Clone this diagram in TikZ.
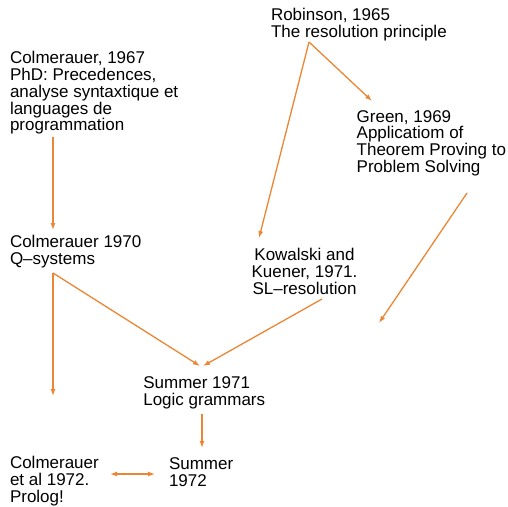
\documentclass[tikz,border=0pt]{standalone}
\usepackage{fontspec}
\setmainfont{Liberation Sans}
\usetikzlibrary{arrows.meta}
\definecolor{arrorange}{RGB}{236,134,52}
\tikzset{
  txt/.style={inner sep=0pt, outer sep=0pt, anchor=north west, align=left,
    font=\fontsize{17}{16.7}\selectfont, text=black},
  arr/.style={draw=arrorange, line width=1.3pt,
    -{Latex[length=7pt,width=5pt]}},
  darr/.style={draw=arrorange, line width=1.3pt,
    {Latex[length=7pt,width=5pt]}-{Latex[length=7pt,width=5pt]}}
}
\begin{document}
\begin{tikzpicture}[x=1pt,y=-1pt]
\useasboundingbox (0,0) rectangle (508,506);
\node[txt] (c67) at (10,51.6) {Colmerauer, 1967\\PhD: Precedences,\\analyse syntaxtique et\\languages de\\programmation};
\node[txt] (rob) at (271,8.6) {Robinson, 1965\\The resolution principle};
\node[txt] (green) at (356.7,110.3) {Green, 1969\\Applicatiom of\\Theorem Proving to\\Problem Solving};
\node[txt] (c70) at (10,235.6) {Colmerauer 1970\\Q{\textendash}systems};
\node[txt, anchor=north, align=center] (kow) at (304.5,248.6) {Kowalski and\\Kuener, 1971.\\SL{\textendash}resolution};
\node[txt] (s71) at (143.3,376.6) {Summer 1971\\Logic grammars};
\node[txt] (cet) at (10,456.6) {Colmerauer\\et al 1972.\\Prolog!};
\node[txt] (s72) at (169,457.6) {Summer\\1972};
\coordinate (gfree) at (379,323);
\coordinate (cfree) at (53,396);
\draw[arr] ([shift={(43,85.4)}]c67.north west) -- ([shift={(43,-5.6)}]c70.north west);
\draw[arr] ([shift={(38,33.4)}]rob.north west) -- ([shift={(-45.5,-10.6)}]kow.north);
\draw[arr] ([shift={(38,33.4)}]rob.north west) -- ([shift={(15.3,-9.3)}]green.north west);
\draw[arr] ([shift={(110.3,82.7)}]green.north west) -- (gfree);
\draw[arr] ([shift={(43,37.4)}]c70.north west) -- ([shift={(56.7,-10.6)}]s71.north west);
\draw[arr] ([shift={(17.5,50.4)}]kow.north) -- ([shift={(59.7,-10.6)}]s71.north west);
\draw[arr] ([shift={(43,37.4)}]c70.north west) -- (cfree);
\draw[arr] ([shift={(58.7,37.4)}]s71.north west) -- ([shift={(33,-9.6)}]s72.north west);
\draw[darr] ([shift={(100,17.4)}]cet.north west) -- ([shift={(-14,16.4)}]s72.north west);
\end{tikzpicture}
\end{document}
